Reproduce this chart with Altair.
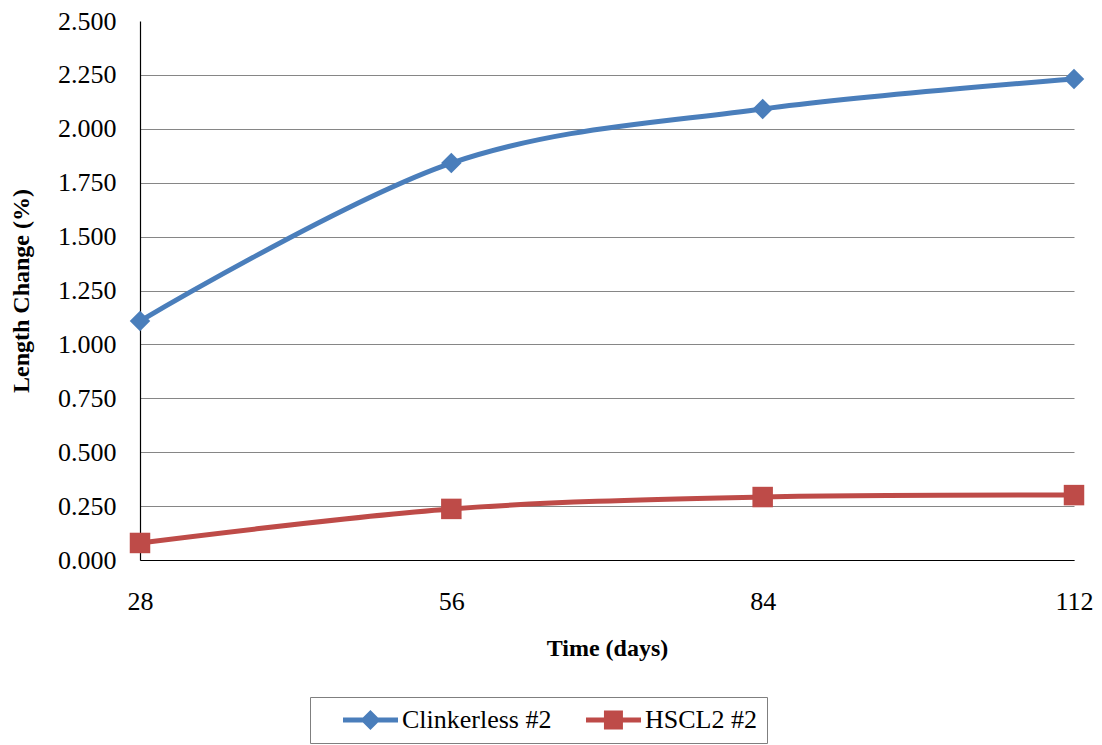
import altair as alt
import pandas as pd

days = [28, 56, 84, 112]
clinkerless = [1.108, 1.841, 2.092, 2.231]
hscl2 = [0.079, 0.237, 0.292, 0.301]
series_names = ["Clinkerless #2", "HSCL2 #2"]
series_colors = ["#4A7EBB", "#BE4B48"]
y_ticks = [0, 0.25, 0.5, 0.75, 1.0, 1.25, 1.5, 1.75, 2.0, 2.25, 2.5]

rows = []
for d, v in zip(days, clinkerless):
    rows.append({"day": d, "value": v, "series": series_names[0]})
for d, v in zip(days, hscl2):
    rows.append({"day": d, "value": v, "series": series_names[1]})
df = pd.DataFrame(rows)

FONT = "Liberation Serif"

# legend symbols: line stub with marker (SVG paths, unit = 13 px, centre at 13 px)
diamond_line = ("M0.77,-0.19 L5,-0.19 L5,0.19 L0.77,0.19 Z "
                "M2.88,-0.77 L3.65,0 L2.88,0.77 L2.11,0 Z")
square_line = ("M0.77,-0.19 L5,-0.19 L5,0.19 L0.77,0.19 Z "
               "M2.15,-0.73 L3.61,-0.73 L3.61,0.73 L2.15,0.73 Z")

x_enc = alt.X("day:Q",
              scale=alt.Scale(domain=[28, 112], nice=False, zero=False),
              axis=alt.Axis(values=days, title="Time (days)", grid=False, ticks=False,
                            labelFlush=False, labelPadding=28, titlePadding=22, format="d"))
y_enc = alt.Y("value:Q",
              scale=alt.Scale(domain=[0, 2.5], nice=False),
              axis=alt.Axis(values=y_ticks, format=".3f", title="Length Change (%)",
                            ticks=False, labelPadding=24, titlePadding=24,
                            gridOpacity={"condition": {"test": "datum.value >= 2.5", "value": 0}, "value": 1}))

color_scale = alt.Scale(domain=series_names, range=series_colors)

base = alt.Chart(df)

lines = base.mark_line(interpolate="cardinal", tension=0, strokeWidth=5).encode(
    x=x_enc, y=y_enc,
    color=alt.Color("series:N", scale=color_scale, legend=None),
)

points = base.mark_point(filled=True, size=420, opacity=1, strokeWidth=0).encode(
    x=x_enc, y=y_enc,
    color=alt.Color("series:N", scale=color_scale, legend=None),
    shape=alt.Shape("series:N", scale=alt.Scale(domain=series_names, range=["diamond", "square"]),
                    legend=None),
)

legend_props = dict(
    title=None, orient="none", legendX=170, legendY=676, direction="horizontal", columns=2,
    labelFont=FONT, labelFontSize=26, labelColor="black", labelOffset=56,
    symbolSize=26 * 26, symbolOpacity=1, symbolStrokeWidth=0, columnPadding=11,
    padding=10, strokeColor="#7f7f7f", fillColor="white", labelLimit=400,
)

legend_layer = base.mark_point(filled=True, opacity=0, size=1).encode(
    x=x_enc, y=y_enc,
    color=alt.Color("series:N", scale=color_scale, legend=alt.Legend(**legend_props)),
    shape=alt.Shape("series:N", scale=alt.Scale(domain=series_names, range=[diamond_line, square_line]),
                    legend=alt.Legend(**legend_props)),
)

chart = alt.layer(lines, points, legend_layer).resolve_scale(
    shape="independent", color="independent"
).properties(
    width=934, height=539,
    autosize=alt.AutoSizeParams(type="none"),
    padding={"left": 140, "top": 21, "right": 28, "bottom": 185},
).configure(
    font=FONT, background="white"
).configure_view(
    strokeWidth=0
).configure_axis(
    labelFont=FONT, labelFontSize=26, labelColor="black",
    titleFont=FONT, titleFontSize=24, titleFontWeight="bold", titleColor="black",
    domainColor="black", domainWidth=1.2, gridColor="#868686", gridWidth=1.2,
).configure_legend(
    labelFont=FONT, labelFontSize=26, labelColor="black",
)

chart.save("out.html", embed_options={"renderer": "svg", "actions": False})
